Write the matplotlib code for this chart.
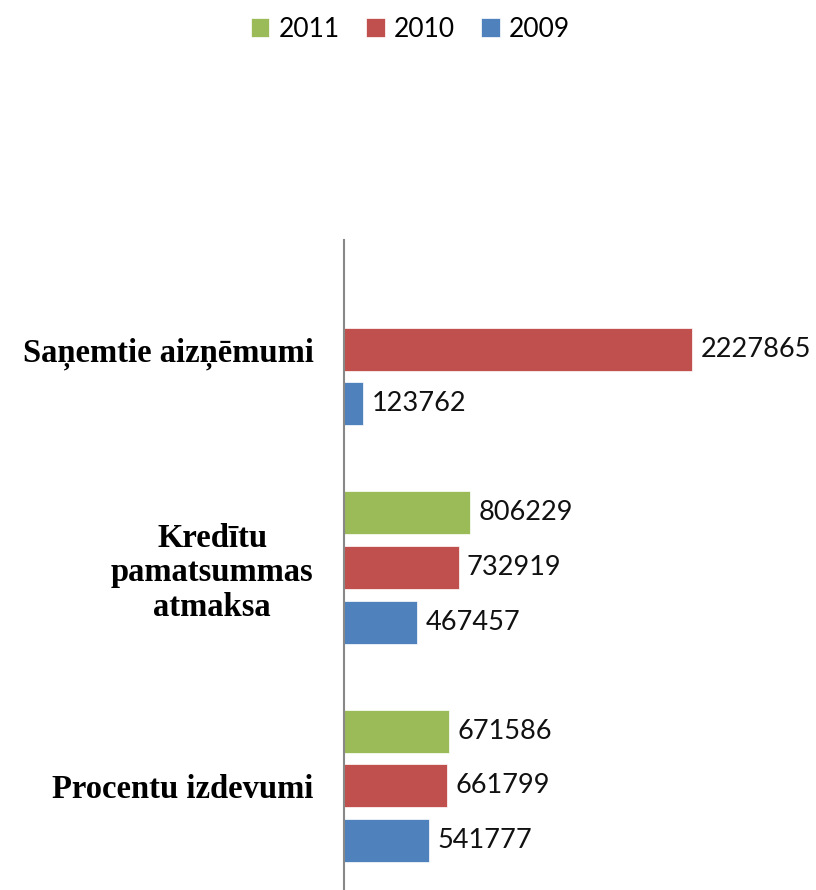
import matplotlib.pyplot as plt
import numpy as np

# categories, bottom to top
categories = ['Procentu izdevumi', 'Kredītu\npamatsummas\natmaksa', 'Saņemtie aizņēmumi']
years = ['2011', '2010', '2009']
values = {
    '2011': [671586, 806229, None],
    '2010': [661799, 732919, 2227865],
    '2009': [541777, 467457, 123762],
}
colors = {'2011': '#9BBB59', '2010': '#C0504D', '2009': '#4F81BD'}
offsets = {'2011': 0.25, '2010': 0.0, '2009': -0.25}

fig = plt.figure(figsize=(8.16, 8.90), dpi=100)
ax = fig.add_axes([0.4216, -0.0056, 0.4786, 0.7359])

y = np.arange(len(categories))
handles = []
for yr in years:
    vals = values[yr]
    ys = [yi + offsets[yr] for yi, v in zip(y, vals) if v is not None]
    vs = [v for v in vals if v is not None]
    bars = ax.barh(ys, vs, height=0.197, color=colors[yr], edgecolor='white', linewidth=0.5)
    handles.append(bars)
    for yy, v in zip(ys, vs):
        ax.annotate(str(v), xy=(v, yy), xytext=(6, 0), textcoords='offset points',
                    ha='left', va='center', fontsize=19.5, family='Lato', color='#111111')

ax.set_xlim(0, 2500000)
ax.set_ylim(-0.5, 2.5)
ax.set_yticks(y)
ax.set_yticklabels(categories, fontsize=23.5, family='Liberation Serif', fontweight='bold',
                   multialignment='center', linespacing=1.15)
ax.tick_params(axis='y', length=0, pad=22)
ax.set_xticks([])
for s in ['top', 'right', 'bottom']:
    ax.spines[s].set_visible(False)
ax.spines['left'].set_color('#888888')
ax.spines['left'].set_linewidth(1.5)

fig.legend(handles, years, loc='upper center', bbox_to_anchor=(0.503, 1.008), ncol=3,
           frameon=False, prop={'family': 'Lato', 'size': 19}, handlelength=0.7,
           handleheight=0.7, handletextpad=0.35, columnspacing=1.0)

fig.savefig('out.png', dpi=100)
